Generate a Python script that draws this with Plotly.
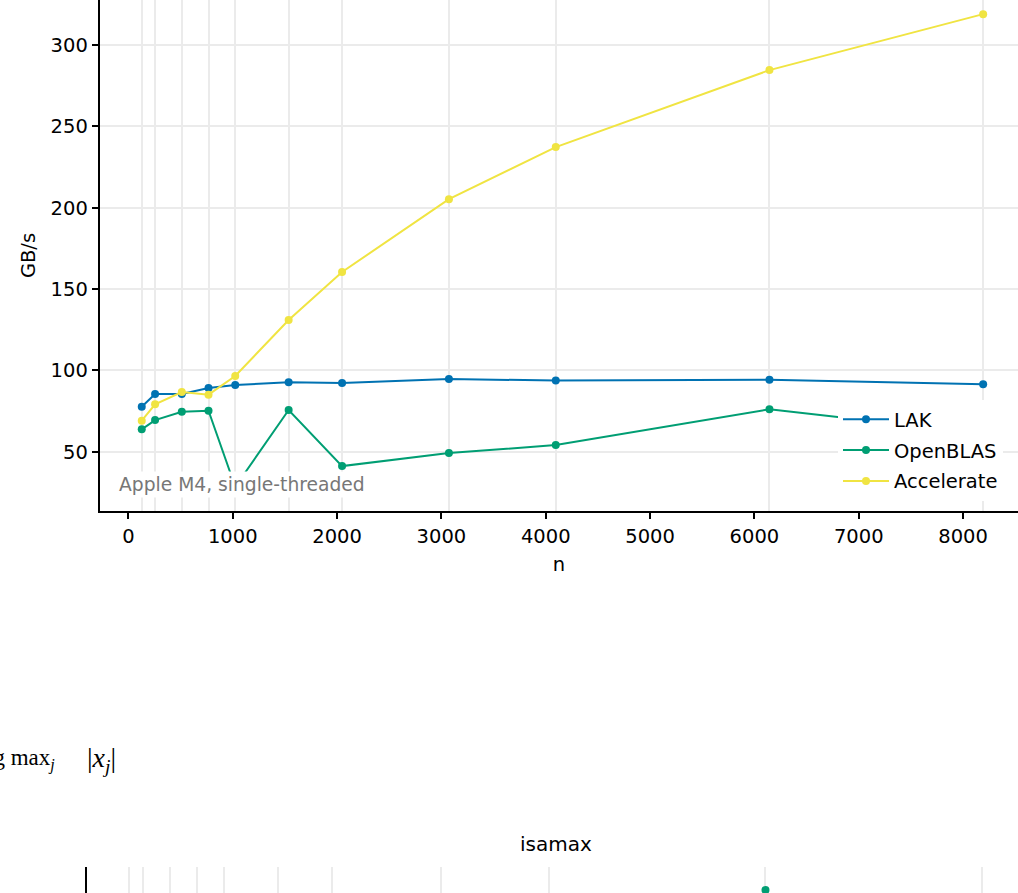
import plotly.graph_objects as go

# ---- data ----
n = [128, 256, 512, 768, 1024, 1536, 2048, 3072, 4096, 6144, 8192]
lak = [77.7, 85.5, 85.5, 89.2, 91.0, 92.7, 92.3, 94.7, 93.8, 94.3, 91.5]
openblas = [63.8, 69.5, 74.6, 75.2, 28.5, 75.7, 41.2, 49.2, 54.1, 76.1, 61.2]
accelerate = [69.1, 79.2, 86.7, 85.1, 96.6, 131.0, 160.5, 205.3, 237.3, 284.6, 319.0]

x_ticks = [0, 1000, 2000, 3000, 4000, 5000, 6000, 7000, 8000]
y_ticks = [50, 100, 150, 200, 250, 300]

# second (isamax) chart: only its top edge is visible
isamax_n = [6144]
isamax_openblas = [288.9]

series_names = ["LAK", "OpenBLAS", "Accelerate"]
colors = ["#0072B2", "#009E73", "#F0E442"]

W, H = 1018, 893
FONT = "DejaVu Sans"
GRID = "#ebebeb"

fig = go.Figure()
for name, vals, col in zip(series_names, [lak, openblas, accelerate], colors):
    fig.add_trace(go.Scatter(
        x=n, y=vals, name=name, mode="lines+markers", legendgroup=name,
        line=dict(color=col, width=2), marker=dict(color=col, size=8),
        xaxis="x", yaxis="y"))

fig.add_trace(go.Scatter(
    x=isamax_n, y=isamax_openblas, name="OpenBLAS", mode="markers",
    marker=dict(color=colors[1], size=8), showlegend=False,
    xaxis="x2", yaxis="y2"))

top_left = 100 / W
top_bottom = 1 - 511 / H
bot_left = 86.7 / W
bot_top = 1 - 866.7 / H

tickfont = dict(family=FONT, size=19.5, color="black")

fig.update_layout(
    width=W, height=H,
    margin=dict(l=0, r=0, t=0, b=0),
    paper_bgcolor="white", plot_bgcolor="white",
    font=dict(family=FONT, size=19.5, color="black"),
    showlegend=True,
    legend=dict(x=838 / W, y=1 - 400 / H, xanchor="left", yanchor="top",
                bgcolor="white", borderwidth=0, itemwidth=46,
                tracegroupgap=2.5,
                font=dict(family=FONT, size=19.5, color="black")),
    xaxis=dict(
        domain=[top_left, 1], anchor="y", range=[-272, 8526],
        tickmode="array", tickvals=x_ticks, tickfont=tickfont,
        ticks="outside", ticklen=6.5, tickwidth=1.5, tickcolor="black",
        showline=True, linecolor="black", linewidth=1.5,
        showgrid=False, zeroline=False,
        minor=dict(tickmode="array", tickvals=n, showgrid=True,
                   gridcolor=GRID, gridwidth=1.5, ticks=""),
        title=dict(text="n", font=dict(family=FONT, size=19.5), standoff=11),
    ),
    yaxis=dict(
        domain=[top_bottom, 1], anchor="x", range=[13.6, 327.7],
        tickmode="array", tickvals=y_ticks, tickfont=tickfont,
        ticks="outside", ticklen=6.5, tickwidth=1.5, tickcolor="black",
        showline=True, linecolor="black", linewidth=1.5,
        showgrid=True, gridcolor=GRID, gridwidth=1.5, zeroline=False,
        title=dict(text="GB/s", font=dict(family=FONT, size=19.5), standoff=10),
    ),
    xaxis2=dict(
        domain=[bot_left, 1], anchor="y2", range=[-275, 8532],
        showticklabels=False, ticks="", showline=False,
        showgrid=False, zeroline=False,
        minor=dict(tickmode="array", tickvals=n, showgrid=True,
                   gridcolor=GRID, gridwidth=1.5, ticks=""),
    ),
    yaxis2=dict(
        domain=[0, bot_top], anchor="x2", range=[287.5, 300],
        showticklabels=False, ticks="", showline=True,
        linecolor="black", linewidth=1.5, showgrid=False, zeroline=False,
    ),
)

fig.add_annotation(
    text="Apple M4, single-threaded", xref="x domain", yref="y domain",
    x=(116 - 100) / 918, y=(511 - 484.5) / 511, xanchor="left", yanchor="middle",
    showarrow=False, bgcolor="white", borderpad=2,
    font=dict(family=FONT, size=18.7, color="#777777"))

# formula text (partly cut off at the left edge, as in the reference)
fig.add_annotation(
    text="arg max<sub><i>j</i></sub>",
    xref="paper", yref="paper", x=57 / W, y=1 - 759 / H,
    xanchor="right", yanchor="middle", showarrow=False,
    font=dict(family="Liberation Serif", size=23, color="black"))
fig.add_annotation(
    text="|<i>x</i><sub><i>j</i></sub>|",
    xref="paper", yref="paper", x=118 / W, y=1 - 759 / H,
    xanchor="right", yanchor="middle", showarrow=False,
    font=dict(family="Liberation Serif", size=28, color="black"))

fig.add_annotation(
    text="isamax", xref="paper", yref="paper", x=555.7 / W, y=1 - 844 / H,
    xanchor="center", yanchor="middle", showarrow=False,
    font=dict(family=FONT, size=20, color="black"))

fig.write_html("out.html", config={"displayModeBar": False},
               post_script="document.body.style.margin='0';")
